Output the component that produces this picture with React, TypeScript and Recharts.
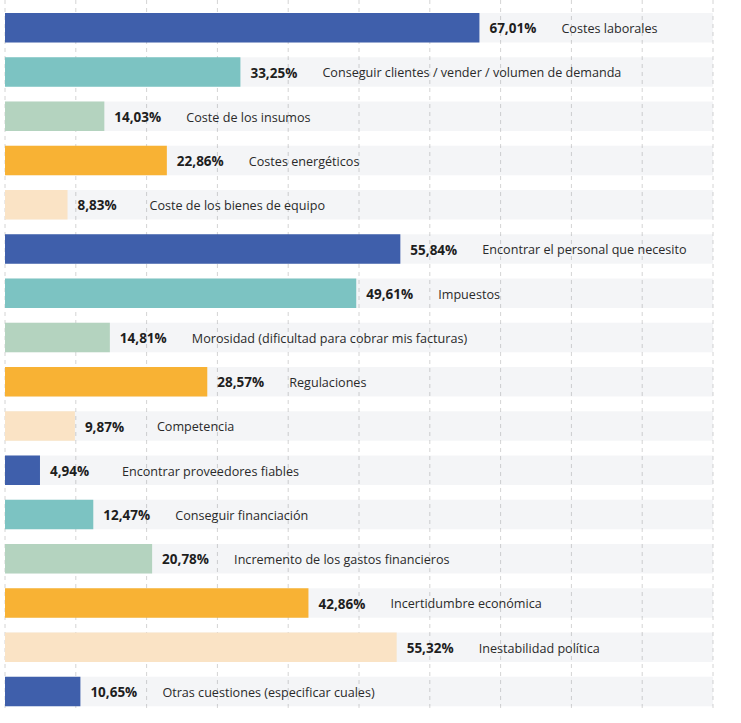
import React from "react";
import { BarChart, Bar, XAxis, YAxis, CartesianGrid, Cell, LabelList } from "recharts";

const categories = [
  "Costes laborales",
  "Conseguir clientes / vender / volumen de demanda",
  "Coste de los insumos",
  "Costes energéticos",
  "Coste de los bienes de equipo",
  "Encontrar el personal que necesito",
  "Impuestos",
  "Morosidad (dificultad para cobrar mis facturas)",
  "Regulaciones",
  "Competencia",
  "Encontrar proveedores fiables",
  "Conseguir financiación",
  "Incremento de los gastos financieros",
  "Incertidumbre económica",
  "Inestabilidad política",
  "Otras cuestiones (especificar cuales)",
];

const values = [67.01, 33.25, 14.03, 22.86, 8.83, 55.84, 49.61, 14.81, 28.57, 9.87, 4.94, 12.47, 20.78, 42.86, 55.32, 10.65];

const ticks = [0, 10, 20, 30, 40, 50, 60, 70, 80, 90, 100];

const COLORS = ["#3f5fab", "#7cc3c2", "#b4d3bf", "#f8b234", "#fae3c5"];

const data = categories.map((name, i) => ({ name, value: values[i] }));

const SHIFT = 6;

const fmt = (v: number) => v.toFixed(2).replace(".", ",") + "%";

function BarShape(props: any) {
  const { x, y, width, height, fill } = props;
  return <rect x={x} y={y + SHIFT} width={width} height={height} fill={fill} />;
}

function BgShape(props: any) {
  const { x, y, width, height } = props;
  return <rect x={x} y={y + SHIFT} width={width} height={height} fill="rgb(30,50,90)" fillOpacity={0.05} />;
}

function RowLabel(props: any) {
  const { x, y, width, height, index } = props;
  const cy = y + height / 2 + SHIFT;
  const end = x + width;
  return (
    <g>
      <text x={end + 10} y={cy} dy="0.42em" fontFamily="'Open Sans', sans-serif" fontWeight={700} fontSize={13.5} fill="#1e1e1e">
        {fmt(values[index])}
      </text>
      <text x={end + 82} y={cy} dy="0.42em" fontFamily="'Open Sans', sans-serif" fontSize={12.6} fill="#2a2a2a">
        {categories[index]}
      </text>
    </g>
  );
}

export default function App() {
  return (
    <div style={{ position: "absolute", left: 0, top: 0 }}>
      <BarChart
        width={741}
        height={723}
        data={data}
        layout="vertical"
        margin={{ top: 0, right: 28, bottom: 15, left: 5 }}
        barSize={29.5}
      >
        <CartesianGrid horizontal={false} strokeDasharray="4 4" stroke="#d4d4d4" />
        <XAxis type="number" domain={[0, 100]} ticks={ticks} hide />
        <YAxis type="category" dataKey="name" hide />
        <Bar dataKey="value" isAnimationActive={false} shape={<BarShape />} background={<BgShape />}>
          {data.map((_, i) => (
            <Cell key={i} fill={COLORS[i % COLORS.length]} />
          ))}
          <LabelList dataKey="value" content={<RowLabel />} />
        </Bar>
      </BarChart>
    </div>
  );
}
